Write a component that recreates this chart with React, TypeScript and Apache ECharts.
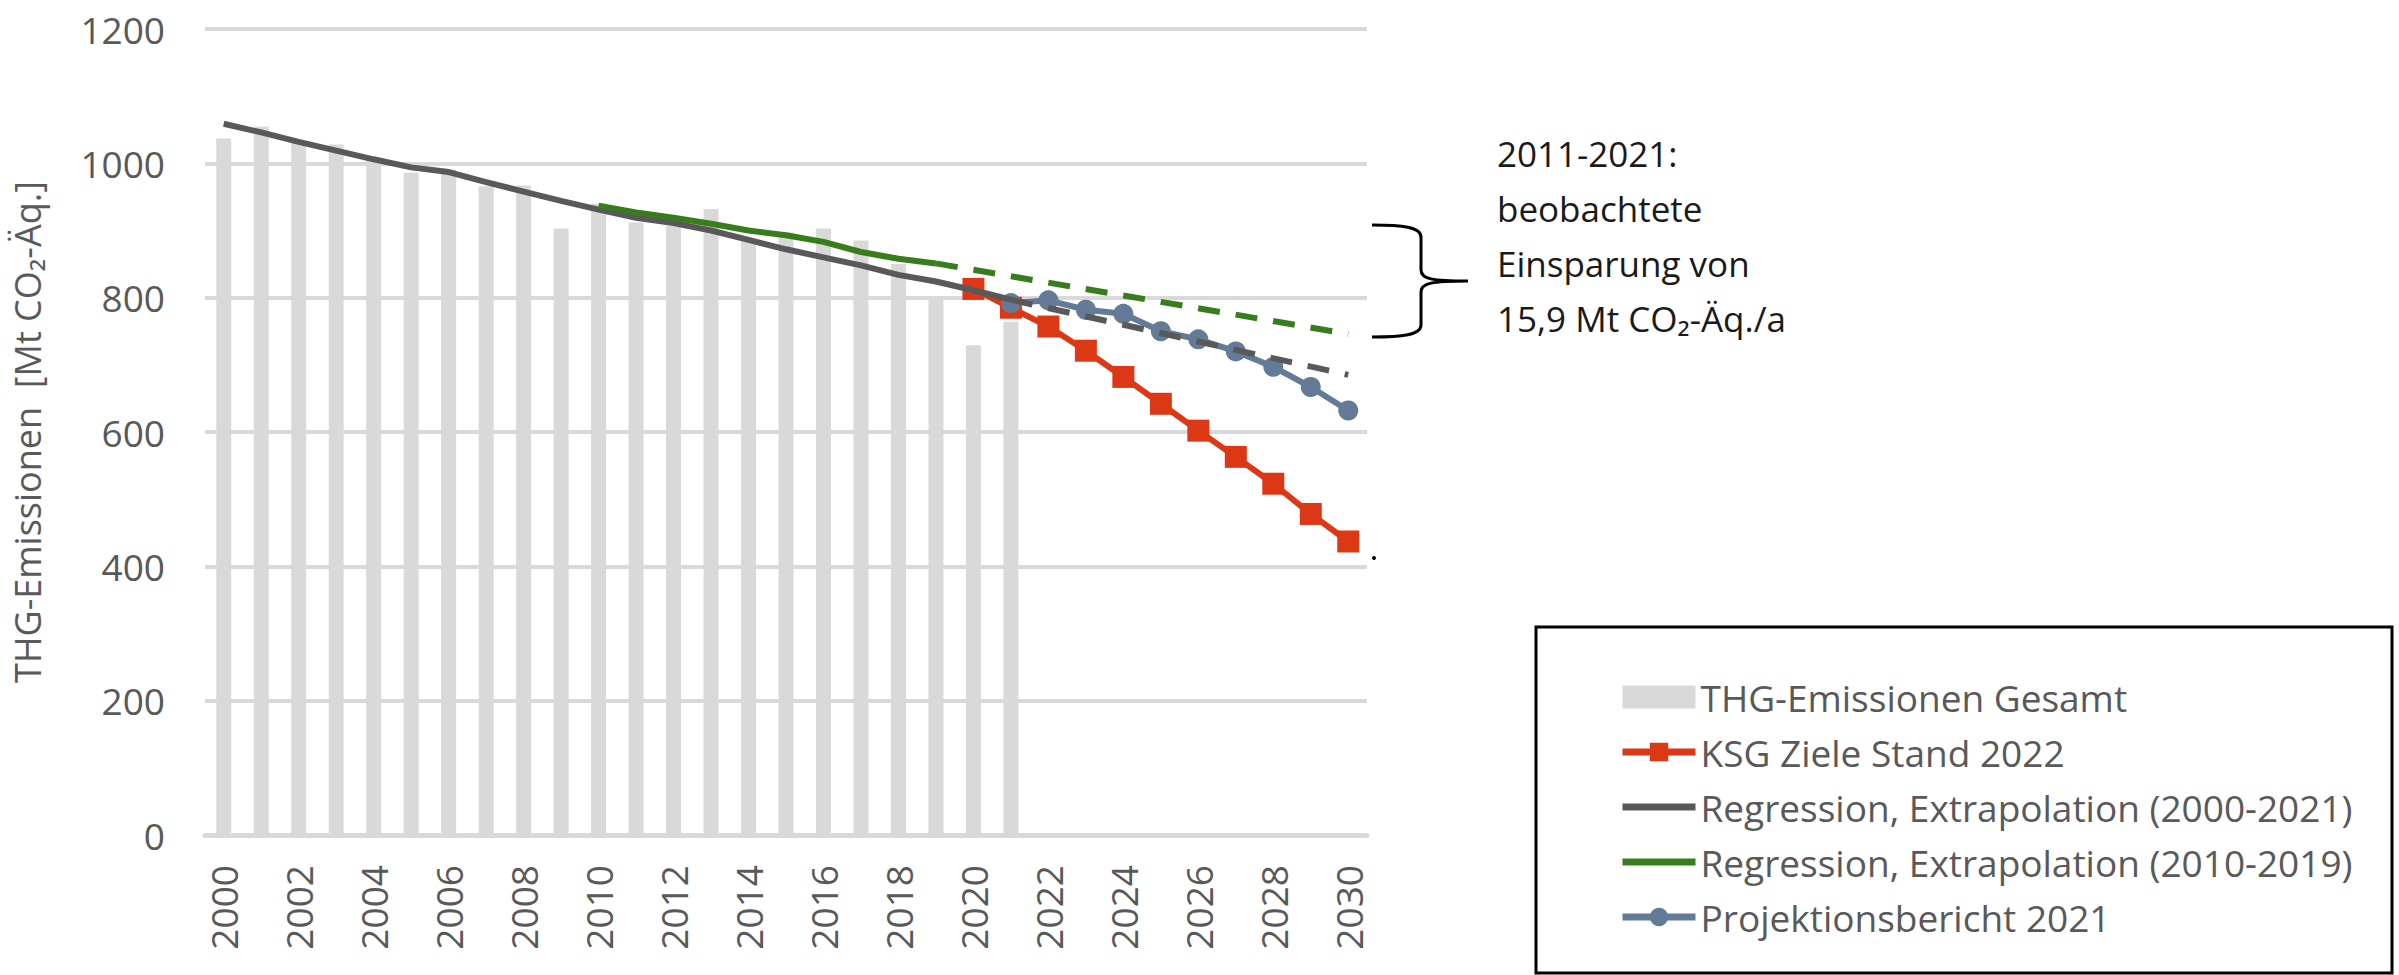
import React, { useEffect, useRef } from "react";
import * as echarts from "echarts";

const years = [
  "2000", "2001", "2002", "2003", "2004", "2005", "2006", "2007", "2008", "2009",
  "2010", "2011", "2012", "2013", "2014", "2015", "2016", "2017", "2018", "2019",
  "2020", "2021", "2022", "2023", "2024", "2025", "2026", "2027", "2028", "2029", "2030",
];

const yTicks = { min: 0, max: 1200, interval: 200 };

const NAME_BARS = "THG-Emissionen Gesamt";
const NAME_KSG = "KSG Ziele Stand 2022";
const NAME_REG_ALL = "Regression, Extrapolation (2000-2021)";
const NAME_REG_10 = "Regression, Extrapolation (2010-2019)";
const NAME_PROJ = "Projektionsbericht 2021";

// 2000..2021
const emissions = [
  1037, 1055, 1031, 1028, 1005, 986, 991, 966, 967, 903,
  940, 912, 907, 932, 885, 897, 903, 885, 850, 798, 729, 764,
];

// Regression 2000-2021 (solid, 2000..2021)
const regAllSolid = [
  1059, 1046, 1032, 1019, 1006, 994, 987, 972, 958, 944,
  931, 919, 911, 900, 886, 872, 860, 848, 834, 824, 811, 797,
];
// Extrapolation 2021 -> 2030
const regAllExtrapStart = 797;
const regAllExtrapEnd = 685;

// Regression 2010-2019 (solid, 2010..2019)
const reg10Solid = [937, 927, 919, 910, 900, 893, 883, 868, 858, 851];
const reg10ExtrapStart = 851;
const reg10ExtrapEnd = 746;

// KSG targets 2020..2030
const ksg = [813, 785, 757, 721, 682, 642, 602, 563, 523, 478, 437];

// Projektionsbericht 2021..2030
const projektion = [792, 796, 782, 776, 750, 738, 720, 697, 667, 632];

const annotationLines = ["2011-2021:", "beobachtete", "Einsparung von", "15,9 Mt CO\u2082-\u00C4q./a"];
const yAxisName = "THG-Emissionen  [Mt CO\u2082-\u00C4q.]";

const n = years.length;
const pad = (startYear: string, vals: number[]) => {
  const arr: (number | null)[] = new Array(n).fill(null);
  const s = years.indexOf(startYear);
  vals.forEach((v, i) => (arr[s + i] = v));
  return arr;
};
const endpoints = (startYear: string, a: number, endYear: string, b: number) => {
  const arr: (number | null)[] = new Array(n).fill(null);
  arr[years.indexOf(startYear)] = a;
  arr[years.indexOf(endYear)] = b;
  return arr;
};

const braceD =
  "M0,0 C30,0 49,2 49,12 L49,45 C49,54 60,56 96,56 C60,56 49,58 49,67 L49,100 C49,110 30,112 0,112";
let registered = false;
function ensureShape() {
  if (registered) return;
  echarts.graphic.registerShape("brace", echarts.graphic.extendPath(braceD, {}) as any);
  registered = true;
}

const FONT = "Open Sans";
const GREY_TXT = "#595959";
const C_BAR = "#D9D9D9";
const C_RED = "#DD3816";
const C_GRAY = "#595959";
const C_GREEN = "#387D1C";
const C_BLUE = "#637B96";

export default function App() {
  const ref = useRef<HTMLDivElement>(null);
  useEffect(() => {
    if (!ref.current) return;
    ensureShape();
    const chart = echarts.init(ref.current, undefined, { renderer: "svg" });
    const option: any = {
      animation: false,
      textStyle: { fontFamily: FONT },
      grid: { left: 205, right: 1032, top: 29, bottom: 140 },
      xAxis: {
        type: "category",
        data: years,
        axisTick: { show: false },
        axisLine: { lineStyle: { color: C_BAR, width: 5 } },
        axisLabel: { rotate: 90, interval: 1, fontSize: 37, color: GREY_TXT, margin: 30, fontFamily: FONT },
      },
      yAxis: {
        type: "value",
        min: yTicks.min,
        max: yTicks.max,
        interval: yTicks.interval,
        axisLabel: {
          fontSize: 37,
          color: GREY_TXT,
          margin: 40,
          fontFamily: FONT,
          formatter: (v: number) => String(v),
        },
        splitLine: { lineStyle: { color: C_BAR, width: 4 } },
        axisLine: { show: false },
        axisTick: { show: false },
        name: yAxisName,
        nameLocation: "middle",
        nameGap: 160,
        nameTextStyle: { fontSize: 36, color: GREY_TXT, fontFamily: FONT },
      },
      legend: {
        orient: "vertical",
        left: 1614,
        top: 673,
        itemWidth: 73,
        itemHeight: 23,
        itemGap: 17,
        selectedMode: false,
        lineStyle: { width: 7 },
        textStyle: { fontSize: 37, color: GREY_TXT, lineHeight: 38, fontFamily: FONT },
        data: [
          { name: NAME_BARS, icon: "rect" },
          { name: NAME_KSG },
          { name: NAME_REG_ALL, itemStyle: { opacity: 0 } },
          { name: NAME_REG_10, itemStyle: { opacity: 0 } },
          { name: NAME_PROJ },
        ],
      },
      graphic: [
        {
          type: "rect",
          shape: { x: 1536, y: 627, width: 856, height: 346 },
          style: { fill: "none", stroke: "#000", lineWidth: 3 },
          z: -1,
        },
        {
          type: "text",
          x: 1497,
          y: 126,
          style: {
            text: annotationLines.join("\n"),
            fontSize: 35,
            fontFamily: FONT,
            fill: "#1a1a1a",
            lineHeight: 55,
          },
        },
        {
          type: "brace",
          x: 1372,
          y: 225,
          style: { stroke: "#000", lineWidth: 3, fill: null },
        },
        {
          type: "circle",
          shape: { cx: 1374, cy: 558, r: 2 },
          style: { fill: "#000" },
        },
      ],
      series: [
        {
          name: NAME_BARS,
          type: "bar",
          data: pad("2000", emissions),
          barWidth: 15,
          itemStyle: { color: C_BAR },
          z: 1,
        },
        {
          name: NAME_KSG,
          type: "line",
          data: pad("2020", ksg),
          symbol: "rect",
          symbolSize: 22,
          lineStyle: { color: C_RED, width: 6 },
          itemStyle: { color: C_RED },
          z: 3,
        },
        {
          name: NAME_PROJ,
          type: "line",
          data: pad("2021", projektion),
          symbol: "circle",
          symbolSize: 20,
          lineStyle: { color: C_BLUE, width: 6 },
          itemStyle: { color: C_BLUE },
          z: 4,
        },
        {
          name: NAME_REG_ALL,
          type: "line",
          data: pad("2000", regAllSolid),
          symbol: "none",
          lineStyle: { color: C_GRAY, width: 6 },
          itemStyle: { color: C_GRAY },
          z: 5,
        },
        {
          name: "Extrapolation 2000-2021",
          type: "line",
          data: endpoints("2021", regAllExtrapStart, "2030", regAllExtrapEnd),
          connectNulls: true,
          symbol: "none",
          lineStyle: { color: C_GRAY, width: 6, type: [22, 16] },
          z: 5,
        },
        {
          name: NAME_REG_10,
          type: "line",
          data: pad("2010", reg10Solid),
          symbol: "none",
          lineStyle: { color: C_GREEN, width: 6 },
          itemStyle: { color: C_GREEN },
          z: 6,
        },
        {
          name: "Extrapolation 2010-2019",
          type: "line",
          data: endpoints("2019", reg10ExtrapStart, "2030", reg10ExtrapEnd),
          connectNulls: true,
          symbol: "none",
          lineStyle: { color: C_GREEN, width: 6, type: [22, 16] },
          z: 6,
        },
      ],
    };
    chart.setOption(option);
    return () => chart.dispose();
  }, []);
  return (
    <div
      ref={ref}
      style={{ position: "fixed", left: 0, top: 0, width: 2399, height: 975, background: "#fff" }}
    />
  );
}
